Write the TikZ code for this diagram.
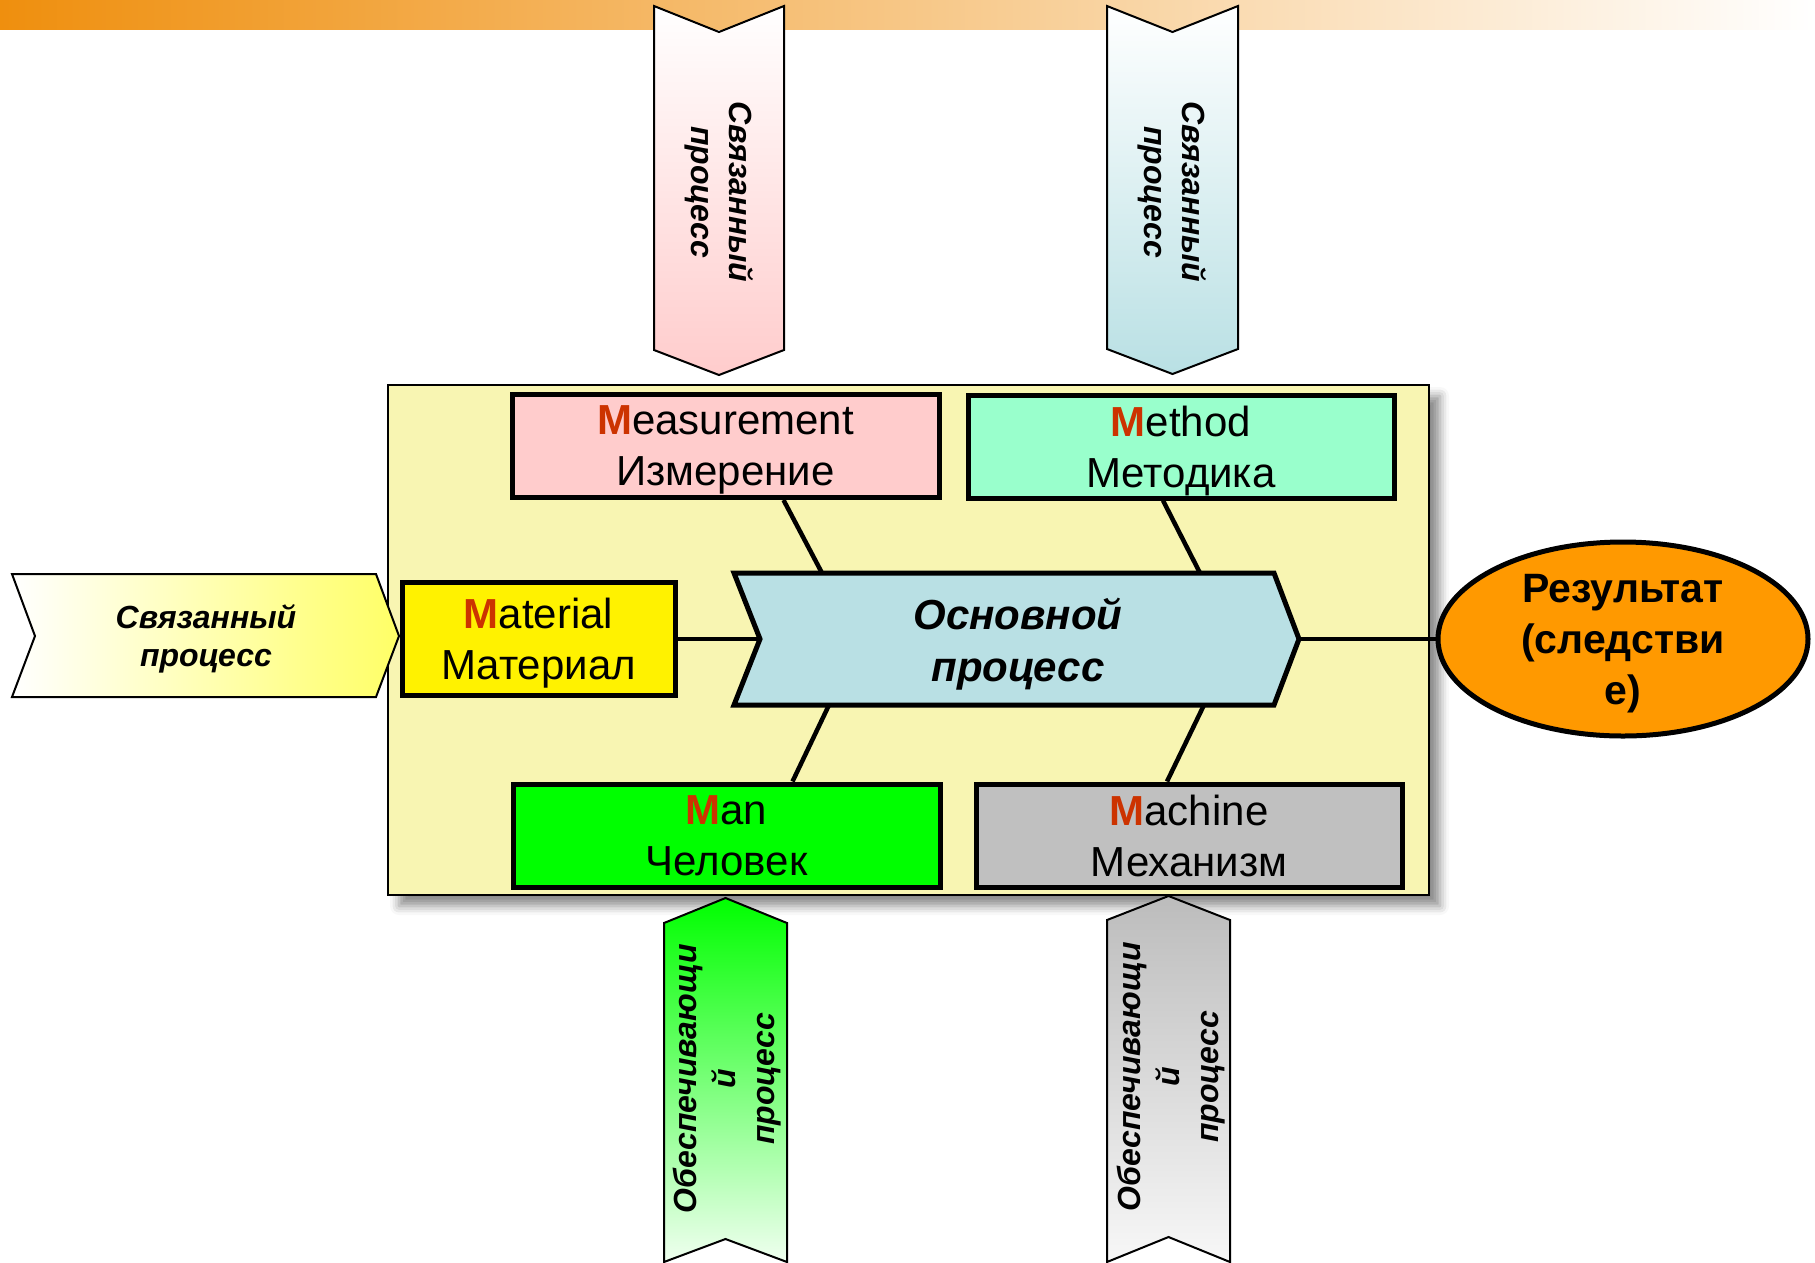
\documentclass[tikz,border=0pt]{standalone}
\usepackage{fontspec}
\setmainfont{Liberation Sans}
\usetikzlibrary{shapes.geometric,shadows.blur}

\definecolor{bandorange}{RGB}{239,143,14}
\definecolor{framefill}{RGB}{248,245,178}
\definecolor{mred}{RGB}{204,51,0}
\definecolor{measfill}{RGB}{255,204,204}
\definecolor{methfill}{RGB}{153,255,204}
\definecolor{procfill}{RGB}{185,224,228}
\definecolor{resfill}{RGB}{255,153,0}
\definecolor{linkfill}{RGB}{255,255,102}
\definecolor{mangreen}{RGB}{0,255,0}
\definecolor{machgray}{RGB}{192,192,192}
\definecolor{supgray}{RGB}{188,188,188}

\newcommand{\bigM}{\textcolor{mred}{\bfseries M}}

\tikzset{
  factor/.style={draw, line width=5pt, minimum width=427pt, minimum height=103pt,
    align=center, text depth=0pt, font=\fontsize{42}{51}\selectfont},
  bone/.style={line width=4.5pt},
  chevron/.style={line width=2pt},
  sidetext/.style={align=center, font=\fontsize{32}{38}\selectfont\bfseries\itshape},
}

\begin{document}
\begin{tikzpicture}[x=1pt, y=-1pt]
\useasboundingbox (0,0) rectangle (1815,1262);

% orange band on top
\shade[left color=bandorange, right color=white] (0,0) rectangle (1815,29);

% yellow field
\draw[fill=framefill, line width=1.5pt,
  blur shadow={shadow xshift=11pt, shadow yshift=-11pt, shadow blur radius=9pt, shadow opacity=45}]
  (388,385) rectangle (1429,895);

% linked processes from above
\shadedraw[chevron, top color=white, bottom color=measfill]
  (654,6) -- (719,32) -- (784,6) -- (784,350) -- (719,375) -- (654,350) -- cycle;
\node[sidetext, rotate=-90] (linka) at (719,192) {Связанный\\процесс};
\shadedraw[chevron, top color=white, bottom color=procfill]
  (1107,6) -- (1172.5,32) -- (1238,6) -- (1238,349) -- (1172.5,374) -- (1107,349) -- cycle;
\node[sidetext, rotate=-90] (linkb) at (1172,192) {Связанный\\процесс};

% linked process from the left
\shadedraw[chevron, left color=white, right color=linkfill]
  (12,574) -- (376,574) -- (399,636) -- (376,697) -- (12,697) -- (35,636) -- cycle;
\node[sidetext, text depth=0pt] (linkc) at (206,636) {Связанный\\процесс};

% supporting processes from below
\shadedraw[chevron, top color=mangreen, bottom color=mangreen!6]
  (664,923) -- (725.5,898) -- (787,923) -- (787,1262) -- (725.5,1239) -- (664,1262) -- cycle;
\node[sidetext, rotate=90, font=\fontsize{32}{39}\selectfont\bfseries\itshape] (supa) at (727,1079)
  {Обеспечивающи\\й\\процесс};
\shadedraw[chevron, top color=supgray, bottom color=white!97!black]
  (1107,920) -- (1168.5,896) -- (1230,920) -- (1230,1262) -- (1168.5,1237) -- (1107,1262) -- cycle;
\node[sidetext, rotate=90, font=\fontsize{32}{39}\selectfont\bfseries\itshape] (supb) at (1171,1077)
  {Обеспечивающи\\й\\процесс};

% main process
\filldraw[fill=procfill, line width=5pt]
  (734,573) coordinate (pnw) -- (1274,573) coordinate (pne) -- (1299,639) coordinate (ptip)
  -- (1274,705) coordinate (pse) -- (734,705) coordinate (psw) -- (760,639) coordinate (pnotch) -- cycle;
\node[align=center, text depth=0pt, font=\fontsize{42}{52}\selectfont\bfseries\itshape] (proc) at (1018,640)
  {Основной\\процесс};

% the 5M boxes
\node[factor, fill=measfill] (meas) at (725.5,446) {\bigM{}easurement\\Измерение};
\node[factor, fill=methfill, minimum width=426pt] (meth) at (1181,446.5) {\bigM{}ethod\\Методика};
\node[factor, fill=yellow, minimum width=273pt, minimum height=113pt] (mat) at (538.5,639) {\bigM{}aterial\\Материал};
\node[factor, fill=mangreen] (man) at (726.5,835.5) {\bigM{}an\\Человек};
\node[factor, fill=machgray, minimum width=426pt] (mach) at (1189,835.5) {\bigM{}achine\\Механизм};

% result
\node[draw, ellipse, fill=resfill, line width=5pt, minimum width=370pt, minimum height=194pt,
  align=center, text depth=0pt, font=\fontsize{41}{51}\selectfont\bfseries] (res) at (1623,639)
  {Результат\\(следстви\\е)};

% spine and bones
\draw[bone] (mat) -- (pnotch);
\draw[bone] (ptip) -- (res);
\draw[bone] ([xshift=58pt]meas.south) -- ([xshift=88pt]pnw);
\draw[bone] ([xshift=-18pt]meth.south) -- ([xshift=-74pt]pne);
\draw[bone] ([xshift=66pt]man.north) -- ([xshift=95pt]psw);
\draw[bone] ([xshift=-22pt]mach.north) -- ([xshift=-70pt]pse);
\end{tikzpicture}
\end{document}
